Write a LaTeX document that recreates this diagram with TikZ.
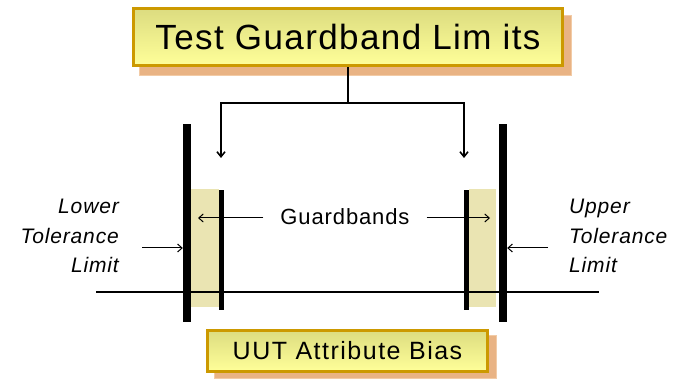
\documentclass[tikz,border=0pt]{standalone}
\usepackage{fontspec}
\setmainfont{Liberation Sans}
\usetikzlibrary{arrows.meta,backgrounds}

\definecolor{goldedge}{HTML}{CC9900}
\definecolor{shadowfill}{HTML}{E9B384}
\definecolor{shadowedge}{HTML}{F2CBA6}
\definecolor{boxtop}{HTML}{DCDC80}
\definecolor{boxbottom}{HTML}{FFFF99}
\definecolor{bandfill}{HTML}{EAE4B2}

\tikzset{
  labelbox/.style={draw=goldedge, top color=boxtop, bottom color=boxbottom,
    inner sep=0pt},
  boxshadow/.style={fill=shadowfill, draw=shadowedge, line width=0.8pt},
  tolbar/.style={fill=black, inner sep=0pt, minimum width=8pt, minimum height=198pt},
  gbbar/.style={fill=black, inner sep=0pt, minimum width=5pt, minimum height=120pt},
  band/.style={fill=bandfill},
  connector/.style={line width=1.6pt},
  pointer/.style={line width=1pt, -{Straight Barb[length=4.5pt,width=8pt]}},
  sidelabel/.style={font=\fontsize{21}{29.5}\selectfont\itshape\addfontfeatures{LetterSpace=4}},
}

\begin{document}
\begin{tikzpicture}[x=1pt, y=-1pt]
\useasboundingbox (0,0) rectangle (678,379);

% title box with its drop shadow
\node[labelbox, line width=3pt, minimum width=429pt, minimum height=57pt,
  font=\fontsize{35}{40}\selectfont\addfontfeatures{LetterSpace=4}]
  (title) at (348,37) {Test Guardband Lim its};
\begin{scope}[on background layer]
  \fill[boxshadow] ([shift={(7,8)}]title.north west) rectangle ([shift={(7,8)}]title.south east);
\end{scope}

% guardband regions
\fill[band] (191,189) rectangle (219,307);
\fill[band] (469,189) rectangle (496,307);

% measurement axis
\coordinate (axisL) at (96,292);
\coordinate (axisR) at (599,292);
\draw[line width=1.5pt] (axisL) -- (axisR);

% tolerance limits and guardband limits
\node[tolbar] (lbar) at (187,223) {};
\node[tolbar] (ubar) at (503,223) {};
\node[gbbar] (lgb) at (221.5,250) {};
\node[gbbar] (ugb) at (466.5,250) {};

% branches from the title down to the guardband limits
\coordinate (split) at (348,103);
\coordinate (ltip) at (221,158);
\coordinate (utip) at (464,158);
\draw[connector] (title.south) -- (split);
\draw[connector, -{Straight Barb[length=5pt,width=8pt]}] (split) -| (ltip);
\draw[connector, -{Straight Barb[length=5pt,width=8pt]}] (split) -| (utip);

% guardband label and its pointers
\node[font=\fontsize{22}{26}\selectfont\addfontfeatures{LetterSpace=4}, inner xsep=17pt, inner ysep=2pt]
  (gb) at (345,217) {Guardbands};
\coordinate (lband) at (198,218);
\coordinate (uband) at (490,218);
\draw[pointer] (gb.west |- lband) -- (lband);
\draw[pointer] (gb.east |- uband) -- (uband);

% tolerance limit labels
\node[sidelabel, align=right, anchor=east, inner sep=0pt] (lower) at (119,236)
  {Lower\\Tolerance\\Limit};
\node[sidelabel, align=left, anchor=west, inner sep=0pt] (upper) at (569,236)
  {Upper\\Tolerance\\Limit};
\coordinate (lowerarrow) at (142,248);
\coordinate (upperarrow) at (548,248);
\draw[pointer] (lowerarrow) -- (lbar.west |- lowerarrow);
\draw[pointer] (upperarrow) -- (ubar.east |- upperarrow);

% quantity box with its drop shadow
\node[labelbox, line width=2.5pt, minimum width=280pt, minimum height=41pt,
  font=\fontsize{25}{30}\selectfont\addfontfeatures{LetterSpace=6}]
  (uut) at (347.5,351) {UUT Attribute Bias};
\begin{scope}[on background layer]
  \fill[boxshadow] ([shift={(8,6)}]uut.north west) rectangle ([shift={(8,6)}]uut.south east);
\end{scope}
\end{tikzpicture}
\end{document}
